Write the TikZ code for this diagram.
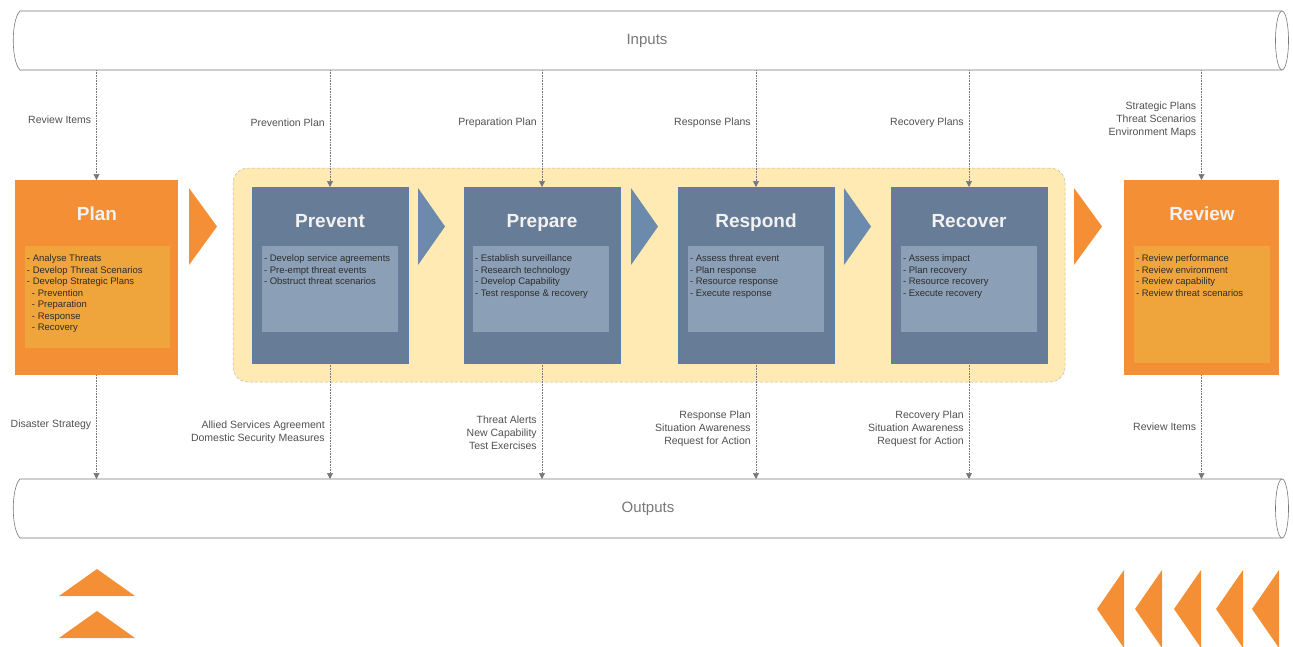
\documentclass[tikz,border=0pt]{standalone}
\usepackage{fontspec}
\setmainfont{Liberation Sans}
\usetikzlibrary{arrows.meta}
\definecolor{orng}{RGB}{245,143,53}
\definecolor{orngin}{RGB}{239,165,60}
\definecolor{slate}{RGB}{103,124,150}
\definecolor{slatein}{RGB}{139,160,182}
\definecolor{slateedge}{RGB}{90,125,175}
\definecolor{chev}{RGB}{108,138,172}
\definecolor{zonefill}{RGB}{254,234,178}
\definecolor{zoneedge}{RGB}{190,185,165}
\definecolor{linegray}{RGB}{120,120,120}
\definecolor{lbltext}{RGB}{80,80,80}
\definecolor{itemtext}{RGB}{45,45,45}
\definecolor{headtext}{RGB}{242,242,242}

\begin{document}
\begin{tikzpicture}[x=1pt,y=-1pt,
    pipe/.style={draw=linegray, fill=white, line width=0.6pt},
    pipetext/.style={text=linegray, font=\fontsize{15}{18}\selectfont},
    stage/.style={fill=#1, minimum width=156pt, minimum height=176pt, inner sep=0pt, outer sep=0pt},
    stagein/.style={fill=#1, minimum width=136pt, minimum height=86pt, inner sep=0pt},
    heading/.style={anchor=base, text=headtext, font=\bfseries\fontsize{19}{22}\selectfont},
    items/.style={anchor=north west, inner xsep=2pt, inner ysep=9pt, align=left, text=itemtext,
        font=\fontsize{9.5}{11.5}\selectfont},
    lbl/.style={left=3pt, align=right, inner sep=2pt, text=lbltext,
        font=\fontsize{10.5}{13}\selectfont},
    flow/.style={draw=linegray, densely dotted, line width=0.6pt,
        -{Triangle[width=6pt,length=6pt]}}]
    \useasboundingbox (0,0) rectangle (1293,646);

    % pipes
    \filldraw[pipe] (20,11) -- (1282,11) -- (1282,70) -- (20,70) .. controls (11,61) and (11,20) .. (20,11);
    \draw[pipe] (1282,40.5) ellipse [x radius=6.5, y radius=29.5];
    \node[pipetext] (inputs) at (647,41) {Inputs};
    \coordinate (inputsbase) at (647,70);
    \filldraw[pipe] (20,479) -- (1282,479) -- (1282,538) -- (20,538) .. controls (11,529) and (11,488) .. (20,479);
    \draw[pipe] (1282,508.5) ellipse [x radius=6.5, y radius=29.5];
    \node[pipetext] (outputs) at (648,509) {Outputs};
    \coordinate (outputstop) at (648,479);

    % response zone
    \node[draw=zoneedge, densely dashed, line width=0.5pt, fill=zonefill, rounded corners=15pt,
        minimum width=832pt, minimum height=214pt] (zone) at (649,275) {};

    % chevrons
    \fill[orng] (189,188) -- (217,226.5) -- (189,265) -- cycle;
    \fill[chev] (418,188) -- (445,226.5) -- (418,265) -- cycle;
    \fill[chev] (631,188) -- (658,226.5) -- (631,265) -- cycle;
    \fill[chev] (844,188) -- (871,226.5) -- (844,265) -- cycle;
    \fill[orng] (1074,188) -- (1102,226.5) -- (1074,265) -- cycle;

    % plan
    \node[stage=orng, minimum width=163pt, minimum height=195pt] (plan) at (96.5,277.5) {};
    \node[heading] (plantitle) at (97,220) {Plan};
    \node[stagein=orngin, minimum width=145pt, minimum height=102pt] (planin) at (97.5,297) {};
    \node[items] (planlist) at (planin.north west) {- Analyse Threats\\- Develop Threat Scenarios\\- Develop Strategic Plans\\
        \hspace{5pt}- Prevention\\\hspace{5pt}- Preparation\\\hspace{5pt}- Response\\\hspace{5pt}- Recovery};

    % prevent
    \node[stage=slate, draw=slateedge, line width=0.4pt] (prevent) at (330,275) {};
    \node[heading] (preventtitle) at (330,227) {Prevent};
    \node[stagein=slatein] (preventin) at (330,289) {};
    \node[items] (preventlist) at (preventin.north west) {- Develop service agreements\\- Pre-empt threat events\\- Obstruct threat scenarios};

    % prepare
    \node[stage=slate, draw=slateedge, line width=0.4pt] (prepare) at (542,275) {};
    \node[heading] (preparetitle) at (542,227) {Prepare};
    \node[stagein=slatein] (preparein) at (541,289) {};
    \node[items] (preparelist) at (preparein.north west) {- Establish surveillance\\- Research technology\\- Develop Capability\\- Test response \& recovery};

    % respond
    \node[stage=slate, draw=slateedge, line width=0.4pt] (respond) at (756,275) {};
    \node[heading] (respondtitle) at (756,227) {Respond};
    \node[stagein=slatein] (respondin) at (756,289) {};
    \node[items] (respondlist) at (respondin.north west) {- Assess threat event\\- Plan response\\- Resource response\\- Execute response};

    % recover
    \node[stage=slate, draw=slateedge, line width=0.4pt] (recover) at (969,275) {};
    \node[heading] (recovertitle) at (969,227) {Recover};
    \node[stagein=slatein] (recoverin) at (969,289) {};
    \node[items] (recoverlist) at (recoverin.north west) {- Assess impact\\- Plan recovery\\- Resource recovery\\- Execute recovery};

    % review
    \node[stage=orng, minimum width=155pt, minimum height=195pt] (review) at (1201.5,277.5) {};
    \node[heading] (reviewtitle) at (1202,220) {Review};
    \node[stagein=orngin, minimum width=136pt, minimum height=117pt] (reviewin) at (1202,304.5) {};
    \node[items] (reviewlist) at (reviewin.north west) {- Review performance\\- Review environment\\- Review capability\\- Review threat scenarios};

    % inputs
    \draw[flow] (plan.north |- inputsbase) -- node[lbl, pos=.45] {Review Items} (plan.north);
    \draw[flow] (prevent.north |- inputsbase) -- node[lbl, pos=.45] {Prevention Plan} (prevent.north);
    \draw[flow] (prepare.north |- inputsbase) -- node[lbl, pos=.45] {Preparation Plan} (prepare.north);
    \draw[flow] (respond.north |- inputsbase) -- node[lbl, pos=.45] {Response Plans} (respond.north);
    \draw[flow] (recover.north |- inputsbase) -- node[lbl, pos=.45] {Recovery Plans} (recover.north);
    \draw[flow] (review.north |- inputsbase) -- node[lbl, pos=.45] {Strategic Plans\\Threat Scenarios\\Environment Maps} (review.north);

    % outputs
    \draw[flow] (plan.south) -- node[lbl, pos=.48] {Disaster Strategy} (plan.south |- outputstop);
    \draw[flow] (prevent.south) -- node[lbl, pos=.6] {Allied Services Agreement\\Domestic Security Measures} (prevent.south |- outputstop);
    \draw[flow] (prepare.south) -- node[lbl, pos=.6] {Threat Alerts\\New Capability\\Test Exercises} (prepare.south |- outputstop);
    \draw[flow] (respond.south) -- node[lbl, pos=.57] {Response Plan\\Situation Awareness\\Request for Action} (respond.south |- outputstop);
    \draw[flow] (recover.south) -- node[lbl, pos=.57] {Recovery Plan\\Situation Awareness\\Request for Action} (recover.south |- outputstop);
    \draw[flow] (review.south) -- node[lbl, pos=.5] {Review Items} (review.south |- outputstop);

    % bottom markers
    \fill[orng] (59,596) -- (97,569) -- (135,596) -- cycle;
    \fill[orng] (59,638) -- (97,611) -- (135,638) -- cycle;
    \fill[orng] (1124,570) -- (1097,609) -- (1124,648) -- cycle;
    \fill[orng] (1162,570) -- (1135,609) -- (1162,648) -- cycle;
    \fill[orng] (1201,570) -- (1174,609) -- (1201,648) -- cycle;
    \fill[orng] (1243,570) -- (1216,609) -- (1243,648) -- cycle;
    \fill[orng] (1279,570) -- (1252,609) -- (1279,648) -- cycle;
\end{tikzpicture}
\end{document}
